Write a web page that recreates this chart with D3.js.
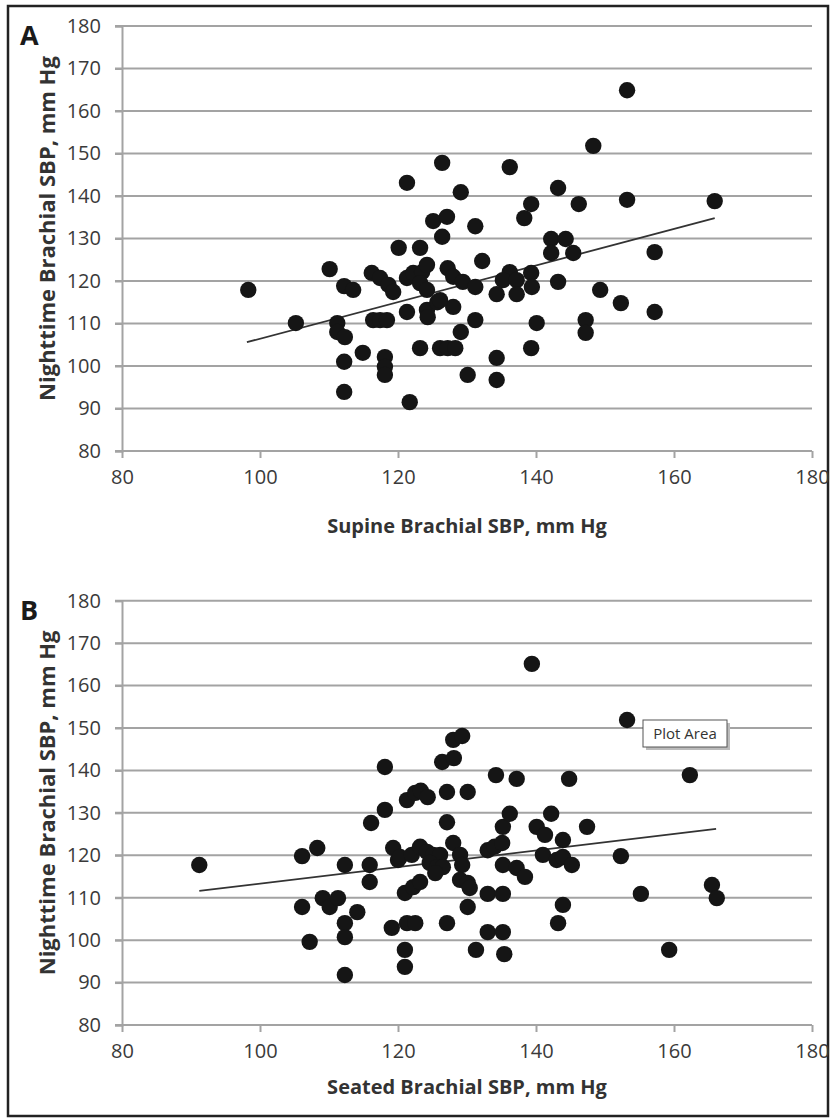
<!DOCTYPE html>
<html>
<head>
<meta charset="utf-8">
<script src="https://cdn.jsdelivr.net/npm/d3@7/dist/d3.min.js"></script>
<style>
  body { margin: 0; background: #fff; }
  svg { display: block; }
</style>
</head>
<body>
<svg></svg>
<script>
let width = 830
let height = 1119

let yTicks = [80, 90, 100, 110, 120, 130, 140, 150, 160, 170, 180]
let xTicks = [80, 100, 120, 140, 160, 180]

let yTitle = "Nighttime Brachial SBP, mm Hg"
let xTitleA = "Supine Brachial SBP, mm Hg"
let xTitleB = "Seated Brachial SBP, mm Hg"

// supine vs nighttime
let pointsA = [
  [98.3, 117.9], [105.2, 110.1], [110.1, 122.8], [111.2, 110.1], [111.2, 108],
  [112.3, 106.8], [112.2, 118.8], [113.5, 117.9], [112.2, 101], [112.2, 93.9],
  [114.9, 103.1], [116.2, 121.9], [117.4, 120.7], [118.6, 119.1], [119.3, 117.4],
  [116.4, 110.8], [117.4, 110.8], [118.4, 110.8], [118.1, 102.1], [118.1, 99.8],
  [118.1, 97.9], [120.1, 127.8], [123.2, 127.8], [121.3, 143.1], [121.3, 120.7],
  [122.2, 121.9], [123.5, 122.1], [124.2, 123.8], [123.2, 119.5], [124.2, 117.9],
  [121.3, 112.7], [121.7, 91.5], [123.2, 104.2], [124.2, 113.2], [124.3, 111.5],
  [125.7, 115], [128, 113.9], [126.1, 104.2], [127.2, 104.2], [128.3, 104.2],
  [125.1, 134.1], [127.1, 135.1], [126.4, 130.4], [126.4, 147.8], [127.2, 123],
  [128, 121], [129.4, 119.8], [129.1, 140.9], [129.1, 108], [130.1, 97.9],
  [131.2, 132.9], [131.2, 110.8], [131.2, 118.6], [132.2, 124.7], [134.3, 101.9],
  [134.3, 96.7], [136.2, 122.1], [135.2, 120.2], [137.2, 120.2], [139.3, 121.9],
  [139.4, 118.6], [134.3, 116.9], [137.2, 116.9], [136.2, 146.8], [138.3, 134.8],
  [139.3, 138.1], [139.3, 104.2], [140.1, 110.1], [142.2, 129.9], [144.3, 129.9],
  [142.2, 126.6], [145.4, 126.6], [143.2, 141.9], [143.2, 119.8], [146.2, 138.1],
  [147.2, 110.8], [147.2, 107.8], [148.3, 151.8], [149.3, 117.9], [152.3, 114.8],
  [153.2, 164.9], [153.2, 139.1], [157.2, 126.8], [157.2, 112.7], [165.9, 138.8],
  [126.1, 115.5]
]

// seated vs nighttime
let pointsB = [
  [91.2, 117.7], [106.1, 119.8], [108.3, 121.7], [106.1, 107.8], [107.2, 99.6],
  [109.1, 109.9], [110.1, 107.8], [111.3, 109.9], [112.3, 104], [112.3, 100.7],
  [112.3, 117.7], [114.1, 106.6], [115.9, 117.7], [115.9, 113.7], [112.3, 91.8],
  [119.1, 102.9], [119.3, 121.7], [120, 118.9], [121, 111.1], [121, 97.7],
  [121, 93.7], [121.3, 104], [122.5, 104], [122.2, 112.5], [123.2, 113.7],
  [120.3, 119.6], [122, 120.1], [123.2, 122], [124.2, 120.8], [125.1, 120.1],
  [126.1, 120.1], [124.6, 118.2], [125.7, 117.2], [126.5, 117.2], [125.4, 115.8],
  [116.1, 127.6], [118.1, 130.7], [118.1, 140.8], [121.3, 133], [122.5, 134.7],
  [123.3, 135.2], [124.3, 133.7], [127.1, 134.9], [130.1, 134.9], [127.1, 127.8],
  [126.4, 142], [128.1, 142.9], [128, 147.2], [129.3, 148.1], [128, 122.9],
  [129, 120.1], [129.3, 117.7], [129, 114.2], [130.1, 113.5], [130.4, 112.3],
  [130.1, 107.8], [127.1, 104], [131.3, 97.7], [133, 101.9], [135.2, 101.9],
  [135.4, 96.7], [133, 110.9], [135.2, 110.9], [133, 121.2], [134, 122],
  [135.1, 122.9], [135.2, 126.7], [136.2, 129.8], [134.2, 138.9], [137.2, 138],
  [135.2, 117.7], [137.2, 117], [138.4, 114.9], [139.4, 165.1], [140.1, 126.7],
  [141.3, 124.8], [142.2, 129.8], [141, 120.1], [143, 118.9], [143.9, 119.6],
  [143.9, 123.6], [143.9, 108.3], [143.2, 104], [144.8, 138], [145.2, 117.7],
  [147.4, 126.7], [152.3, 119.8], [153.2, 151.9], [155.2, 110.9], [159.3, 97.7],
  [162.3, 138.9], [165.5, 113], [166.2, 109.9]
]

// fitted line end points
let trendA = [[98.1, 105.6], [165.9, 134.8]]
let trendB = [[91.2, 111.6], [166.1, 126.2]]

let font = "Open Sans, sans-serif"

let svg = d3.select("svg")
  .attr("width", width)
  .attr("height", height)

// outer frame
svg.append("rect")
  .attr("x", 8)
  .attr("y", 6)
  .attr("width", 820)
  .attr("height", 1110)
  .attr("fill", "none")
  .attr("stroke", "#222")
  .attr("stroke-width", 2.5)

let drawPanel = (p) => {
  let xScale = d3.scaleLinear().domain([80, 180]).range([122, 812])
  let yScale = d3.scaleLinear().domain([80, 180]).range([p.bottom, p.top])
  let g = svg.append("g")

  // gridlines
  g.selectAll(".grid")
    .data(yTicks.slice(1))
    .enter()
    .append("line")
    .attr("x1", 115)
    .attr("x2", xScale(180))
    .attr("y1", d => yScale(d))
    .attr("y2", d => yScale(d))
    .attr("stroke", "#a3a3a3")
    .attr("stroke-width", 2)

  let yAxis = d3.axisLeft(yScale)
    .tickValues(yTicks)
    .tickSize(7)
    .tickPadding(14)
  let ya = g.append("g")
    .attr("transform", "translate(122, 0)")
    .call(yAxis)

  let xAxis = d3.axisBottom(xScale)
    .tickValues(xTicks)
    .tickSize(7)
    .tickSizeOuter(0)
    .tickPadding(12)
  let xa = g.append("g")
    .attr("transform", "translate(0, " + p.bottom + ")")
    .call(xAxis)

  g.selectAll(".domain, .tick line")
    .attr("stroke", "#a3a3a3")
    .attr("stroke-width", 2)
  ya.selectAll("text")
    .style("font-family", font)
    .style("font-size", "20px")
    .attr("fill", "#3a3a3a")
  xa.selectAll("text")
    .style("font-family", font)
    .style("font-size", "20px")
    .attr("fill", "#3a3a3a")
  // x axis line runs from the left stub to 180
  xa.select(".domain").attr("d", "M115,0H" + xScale(180))

  // regression line
  g.append("line")
    .attr("x1", xScale(p.trend[0][0]))
    .attr("y1", yScale(p.trend[0][1]))
    .attr("x2", xScale(p.trend[1][0]))
    .attr("y2", yScale(p.trend[1][1]))
    .attr("stroke", "#333")
    .attr("stroke-width", 1.8)

  g.selectAll("circle")
    .data(p.points)
    .enter()
    .append("circle")
    .attr("cx", d => xScale(d[0]))
    .attr("cy", d => yScale(d[1]))
    .attr("r", 8.2)
    .attr("fill", "#151515")

  // axis titles
  g.append("text")
    .attr("transform", "translate(55, " + ((p.top + p.bottom) / 2 - 10) + ") rotate(-90)")
    .attr("text-anchor", "middle")
    .style("font-family", font)
    .style("font-size", "22px")
    .style("font-weight", "bold")
    .attr("fill", "#333")
    .text(yTitle)

  g.append("text")
    .attr("x", (xScale(80) + xScale(180)) / 2)
    .attr("y", p.bottom + p.titleGap)
    .attr("text-anchor", "middle")
    .style("font-family", font)
    .style("font-size", "20px")
    .style("font-weight", "bold")
    .attr("fill", "#333")
    .text(p.xTitle)

  g.append("text")
    .attr("x", 20)
    .attr("y", p.top + 19)
    .style("font-family", font)
    .style("font-size", "27px")
    .style("font-weight", "bold")
    .attr("fill", "#1a1a1a")
    .text(p.letter)
}

drawPanel({ letter: "A", points: pointsA, trend: trendA, top: 26, bottom: 451, xTitle: xTitleA, titleGap: 82 })
drawPanel({ letter: "B", points: pointsB, trend: trendB, top: 600.7, bottom: 1025, xTitle: xTitleB, titleGap: 69 })

// "Plot Area" hover label seen in panel B
let tip = svg.append("g").attr("transform", "translate(643, 720)")
tip.append("rect")
  .attr("x", 3).attr("y", 3)
  .attr("width", 84).attr("height", 27)
  .attr("fill", "#bbb")
tip.append("rect")
  .attr("width", 84).attr("height", 27)
  .attr("fill", "#fff")
  .attr("stroke", "#555")
  .attr("stroke-width", 1)
tip.append("text")
  .attr("x", 42).attr("y", 19)
  .attr("text-anchor", "middle")
  .style("font-family", font)
  .style("font-size", "15px")
  .attr("fill", "#333")
  .text("Plot Area")
</script>
</body>
</html>
